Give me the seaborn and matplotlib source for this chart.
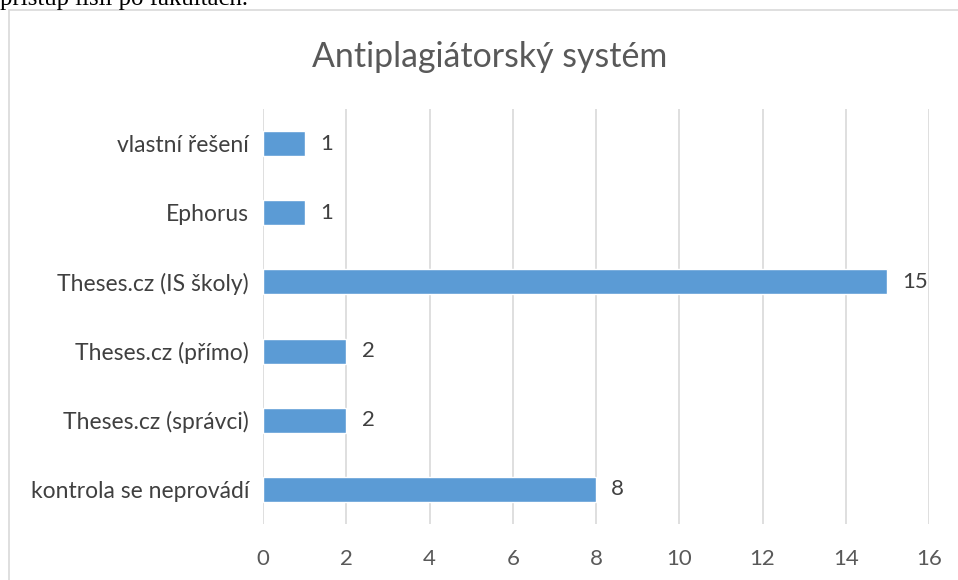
import matplotlib
matplotlib.use("Agg")
import matplotlib.pyplot as plt
from matplotlib.patches import Rectangle
import seaborn as sns
import pandas as pd

# ── Data ──────────────────────────────────────────────────────────────────────
categories = ["vlastní řešení", "Ephorus", "Theses.cz (IS školy)",
              "Theses.cz (přímo)", "Theses.cz (správci)", "kontrola se neprovádí"]
counts = [1, 1, 15, 2, 2, 8]
x_ticks = [0, 2, 4, 6, 8, 10, 12, 14, 16]

TITLE = "Antiplagiátorský systém"
PAGE_TEXT = "přístup lišil po fakultách."

BAR_COLOR = "#5B9BD5"
TEXT_COLOR = "#404040"
GRID_COLOR = "#D9D9D9"

sns.set_theme(style="white")
plt.rcParams["font.family"] = ["Lato", "DejaVu Sans"]

df = pd.DataFrame({"category": categories, "count": counts})

fig = plt.figure(figsize=(9.58, 5.8), dpi=100)

# Surrounding chart frame (cut by page edges)
fig.patches.append(Rectangle((9 / 958, -0.05), 1.0, 1 - 10 / 580 + 0.05,
                             transform=fig.transFigure, fill=False,
                             edgecolor=GRID_COLOR, lw=1.2))
# Cut-off page text above chart
fig.text(0.0, 1 - 5 / 580, PAGE_TEXT, family="Liberation Serif",
         fontsize=17.8, color="black", va="baseline", ha="left")

ax = fig.add_axes([263 / 958, (580 - 524) / 580, 666 / 958, 415 / 580])
sns.barplot(data=df, y="category", x="count", orient="h", ax=ax,
            color=BAR_COLOR, saturation=1, width=0.36, order=categories)

ax.set_xlim(0, 16)
ax.set_xticks(x_ticks)
ax.grid(axis="x", color=GRID_COLOR, lw=1.2)
ax.set_axisbelow(True)
for s in ax.spines.values():
    s.set_visible(False)
ax.set_xlabel("")
ax.set_ylabel("")
ax.tick_params(axis="x", length=0, pad=18, labelsize=16, labelcolor="#595959")
ax.tick_params(axis="y", length=0, pad=10, labelsize=16.5, labelcolor=TEXT_COLOR)

for p, v in zip(ax.patches, counts):
    ax.annotate(f"{v}", (p.get_width(), p.get_y() + p.get_height() / 2),
                xytext=(11, 0), textcoords="offset points", va="center",
                ha="left", fontsize=16, color=TEXT_COLOR)

fig.text(490 / 958, 1 - 57 / 580, TITLE, ha="center", va="center",
         fontsize=24.4, color="#595959")

fig.savefig("out.png", dpi=100)
